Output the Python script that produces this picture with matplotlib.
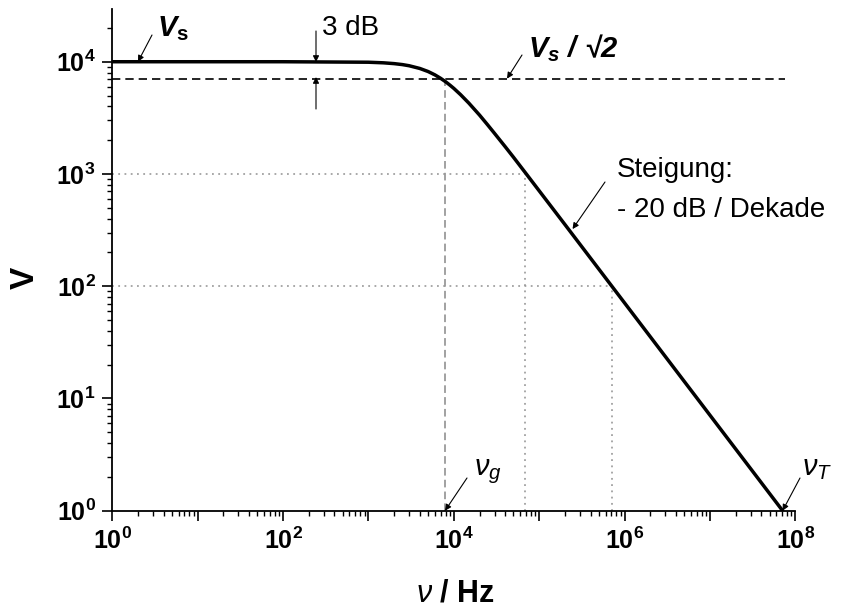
import matplotlib
matplotlib.use("Agg")
import matplotlib.pyplot as plt

# ---------------- data ----------------
freq = [1, 10, 100, 1000, 1500, 2000, 2500, 3000, 4000, 5000, 6000, 7000, 8000,
        9000, 1e4, 1.2e4, 1.5e4, 2e4, 2.5e4, 3e4, 4e4, 5e4, 7e4, 1e5, 2e5,
        1e6, 1e7, 7.1e7]
volt = [1e4, 1e4, 1e4, 9.9e3, 9.78e3, 9.62e3, 9.43e3, 9.21e3, 8.71e3, 8.18e3,
        7.64e3, 7.12e3, 6.64e3, 6.19e3, 5.79e3, 5.09e3, 4.28e3, 3.35e3, 2.73e3,
        2.30e3, 1.75e3, 1.41e3, 1.01e3, 708, 355, 71, 7.1, 1.0]

v_s = 1e4
v_3db = 7.07e3
f_g = 7.9e3
f_t = 7.1e7
f_3db_end = 7.5e7
dot_levels = [1e3, 1e2]
dot_freqs = [6.9e4, 7.1e5]
x_ticks = [1, 1e2, 1e4, 1e6, 1e8]
x_ticklabels = [r"$\mathbf{10}^{\mathbf{0}}$", r"$\mathbf{10}^{\mathbf{2}}$",
                r"$\mathbf{10}^{\mathbf{4}}$", r"$\mathbf{10}^{\mathbf{6}}$",
                r"$\mathbf{10}^{\mathbf{8}}$"]
y_ticks = [1, 1e1, 1e2, 1e3, 1e4]
y_ticklabels = [r"$\mathbf{10}^{\mathbf{0}}$", r"$\mathbf{10}^{\mathbf{1}}$",
                r"$\mathbf{10}^{\mathbf{2}}$", r"$\mathbf{10}^{\mathbf{3}}$",
                r"$\mathbf{10}^{\mathbf{4}}$"]

# ---------------- style ----------------
plt.rcParams["font.family"] = ["Liberation Sans", "DejaVu Sans"]
plt.rcParams["mathtext.fontset"] = "custom"
plt.rcParams["mathtext.rm"] = "Liberation Sans"
plt.rcParams["mathtext.it"] = "Liberation Sans:italic"
plt.rcParams["mathtext.bf"] = "Liberation Sans:bold"
plt.rcParams["mathtext.bfit"] = "Liberation Sans:italic:bold"
plt.rcParams["lines.scale_dashes"] = False

W, H = 859, 610
fig = plt.figure(figsize=(W / 100, H / 100), dpi=100)
ax = fig.add_axes([112.3 / W, 1 - 510.7 / H, (795.3 - 112.3) / W, (510.7 - 9) / H])

ax.set_xscale("log")
ax.set_yscale("log")

# reference lines
ax.plot([1, f_3db_end], [v_3db, v_3db], color="black", lw=1.2, dashes=(6, 3.6))
ax.plot([f_g, f_g], [1, v_3db], color="#888888", lw=1.1, dashes=(5.5, 3))
for lvl, fq in zip(dot_levels, dot_freqs):
    ax.plot([1, fq], [lvl, lvl], color="#999999", lw=1.2, dashes=(1.3, 3.2))
    ax.plot([fq, fq], [1, lvl], color="#999999", lw=1.2, dashes=(1.3, 3.2))

# main curve
ax.plot(freq, volt, color="black", lw=2.5, solid_capstyle="round",
        solid_joinstyle="round", zorder=5)

# axes styling
for s in ["top", "right"]:
    ax.spines[s].set_visible(False)
for s in ["left", "bottom"]:
    ax.spines[s].set_linewidth(1.3)
ax.set_xticks(x_ticks + [1e1, 1e3, 1e5, 1e7])
ax.set_xticklabels(x_ticklabels + ["", "", "", ""])
ax.set_yticks(y_ticks)
ax.set_yticklabels(y_ticklabels)
ax.xaxis.set_minor_locator(matplotlib.ticker.LogLocator(base=10, subs=range(2, 10), numticks=20))
ax.yaxis.set_minor_locator(matplotlib.ticker.LogLocator(base=10, subs=range(2, 10), numticks=20))
ax.xaxis.set_minor_formatter(matplotlib.ticker.NullFormatter())
ax.yaxis.set_minor_formatter(matplotlib.ticker.NullFormatter())
ax.tick_params(which="major", direction="out", length=7, width=1.2, labelsize=18, pad=5)
ax.tick_params(which="minor", direction="out", length=3.8, width=1.0)
ax.set_xlim(1, 1e8)
ax.set_ylim(1, 2.95e4)

# axis labels
fig.text(455 / W, 1 - 593 / H, r"$\nu$ / Hz", fontsize=22, fontweight="bold",
         ha="center", va="center")
fig.text(25 / W, 1 - 278 / H, "V", fontsize=24, fontweight="bold",
         rotation=90, ha="center", va="center")


def P(x, y):
    return (x, H - y)


arrow = dict(arrowstyle="-|>", lw=0.8, color="black", mutation_scale=9,
             shrinkA=0, shrinkB=0)

# V_s
fig.text(157 / W, 1 - 29 / H, r"$\mathbfit{V}_{\mathbf{s}}$", fontsize=21,
         ha="left", va="center")
ax.annotate("", xy=(2.0, v_s), xycoords="data", xytext=P(152, 35),
            textcoords="figure pixels", arrowprops=arrow)

# 3 dB
fig.text(322 / W, 1 - 28 / H, "3 dB", fontsize=20, ha="left", va="center")
ax.annotate("", xy=P(316, 62), xycoords="figure pixels", xytext=P(316, 31),
            textcoords="figure pixels", arrowprops=arrow)
ax.annotate("", xy=P(316, 77), xycoords="figure pixels", xytext=P(316, 109),
            textcoords="figure pixels", arrowprops=arrow)

# V_s / sqrt2
fig.text(528 / W, 1 - 48 / H, r"$\mathbfit{V}_{\mathbfit{s}}$ / √2", fontsize=21,
         fontweight="bold", fontstyle="italic", ha="left", va="center")
ax.annotate("", xy=(4.2e4, v_3db), xycoords="data", xytext=P(522, 55),
            textcoords="figure pixels", arrowprops=arrow)

# Steigung
fig.text(617 / W, 1 - 177 / H, "Steigung:", fontsize=20, ha="left", va="baseline")
fig.text(617 / W, 1 - 217 / H, "- 20 dB / Dekade", fontsize=20, ha="left", va="baseline")
ax.annotate("", xy=(2.46e5, 3.23e2), xycoords="data", xytext=P(605, 182),
            textcoords="figure pixels", arrowprops=arrow)

# nu_g
fig.text(474 / W, 1 - 472 / H, r"$\nu_g$", fontsize=21, ha="left", va="center")
ax.annotate("", xy=(f_g, 1), xycoords="data", xytext=P(467, 478),
            textcoords="figure pixels", arrowprops=arrow)

# nu_T
fig.text(802 / W, 1 - 468 / H, r"$\nu_T$", fontsize=21, ha="left", va="center")
ax.annotate("", xy=(f_t, 1), xycoords="data", xytext=P(800, 478),
            textcoords="figure pixels", arrowprops=arrow, annotation_clip=False)

fig.savefig("out.png", dpi=100)
